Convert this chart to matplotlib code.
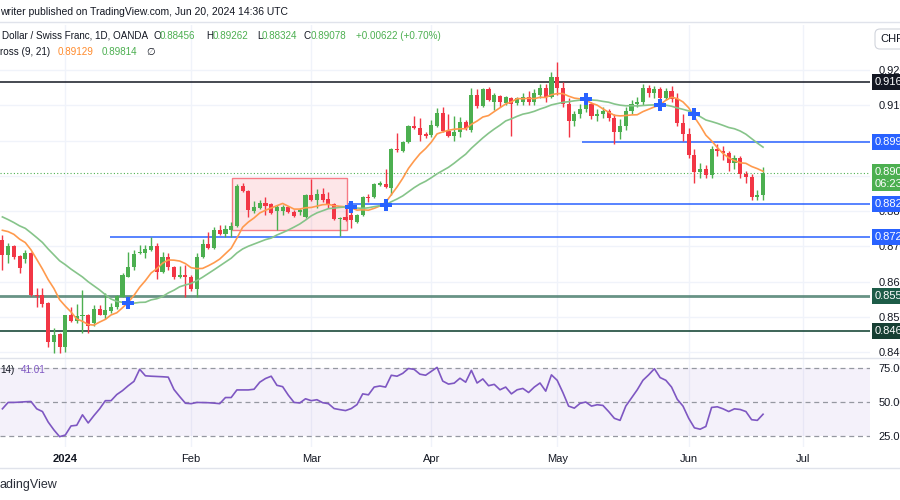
import numpy as np
import pandas as pd
import matplotlib.pyplot as plt
from matplotlib.patches import Rectangle

plt.rcParams['font.family'] = ['Liberation Sans', 'DejaVu Sans']

UP = '#4caf50'
DOWN = '#f23645'
TXT = '#131722'
GRID = '#f0f3fa'

# daily USD/CHF bars, mid Dec 2023 -> 20 Jun 2024
opens = [0.8718, 0.8675, 0.8701, 0.8672, 0.8664, 0.8681, 0.8562, 0.8562, 0.8540, 0.8428,
         0.8452, 0.8414, 0.8504, 0.8489, 0.8501, 0.8504, 0.8481, 0.8523, 0.8506, 0.8515,
         0.8527, 0.8556, 0.8613, 0.8641, 0.8681, 0.8681, 0.8689, 0.8701, 0.8627, 0.8669,
         0.8641, 0.8613, 0.8618, 0.8613, 0.8579, 0.8669, 0.8706, 0.8695, 0.8746, 0.8735,
         0.8746, 0.8757, 0.8871, 0.8857, 0.8800, 0.8809, 0.8823, 0.8820, 0.8800, 0.8800,
         0.8811, 0.8797, 0.8797, 0.8783, 0.8845, 0.8831, 0.8848, 0.8834, 0.8820, 0.8777,
         0.8783, 0.8789, 0.8769, 0.8789, 0.8840, 0.8840, 0.8875, 0.8878, 0.8865, 0.8976,
         0.8970, 0.8996, 0.9041, 0.9035, 0.9018, 0.9015, 0.9041, 0.9078, 0.9027, 0.9013,
         0.9024, 0.9052, 0.9030, 0.9129, 0.9098, 0.9146, 0.9109, 0.9126, 0.9106, 0.9121,
         0.9106, 0.9110, 0.9125, 0.9110, 0.9130, 0.9150, 0.9125, 0.9180, 0.9150, 0.9105,
         0.9055, 0.9075, 0.9090, 0.9105, 0.9070, 0.9075, 0.9085, 0.9065, 0.9025, 0.9040,
         0.9085, 0.9105, 0.9110, 0.9150, 0.9135, 0.9145, 0.9120, 0.9140, 0.9117, 0.9050,
         0.9020, 0.8960, 0.8910, 0.8920, 0.8901, 0.8975, 0.8970, 0.8965, 0.8937, 0.8950,
         0.8905, 0.88956, 0.8840, 0.88456]
highs = [0.8732, 0.8709, 0.8704, 0.8675, 0.8689, 0.8684, 0.8582, 0.8582, 0.8542, 0.8467,
         0.8455, 0.8506, 0.8527, 0.8537, 0.8576, 0.8509, 0.8533, 0.8533, 0.8567, 0.8540,
         0.8562, 0.8624, 0.8684, 0.8689, 0.8704, 0.8704, 0.8726, 0.8709, 0.8684, 0.8681,
         0.8643, 0.8643, 0.8646, 0.8618, 0.8681, 0.8720, 0.8740, 0.8755, 0.8760, 0.8760,
         0.8769, 0.8878, 0.8881, 0.8860, 0.8828, 0.8831, 0.8840, 0.8823, 0.8817, 0.8817,
         0.8814, 0.8803, 0.8809, 0.8848, 0.8891, 0.8862, 0.8865, 0.8854, 0.8823, 0.8782,
         0.8814, 0.8803, 0.8791, 0.8843, 0.8848, 0.8881, 0.8884, 0.8919, 0.8979, 0.9021,
         0.8998, 0.9044, 0.9069, 0.9064, 0.9024, 0.9058, 0.9092, 0.9095, 0.9075, 0.9069,
         0.9066, 0.9058, 0.9149, 0.9146, 0.9149, 0.9152, 0.9135, 0.9129, 0.9126, 0.9123,
         0.9123, 0.9135, 0.9140, 0.9145, 0.9160, 0.9160, 0.9195, 0.9224, 0.9165, 0.9120,
         0.9085, 0.9105, 0.9115, 0.9110, 0.9090, 0.9095, 0.9090, 0.9075, 0.9060, 0.9095,
         0.9115, 0.9125, 0.9160, 0.9158, 0.9155, 0.9152, 0.9150, 0.9155, 0.9135, 0.9075,
         0.9035, 0.8975, 0.8935, 0.8930, 0.8985, 0.8990, 0.8985, 0.8970, 0.8960, 0.8955,
         0.8915, 0.8905, 0.8860, 0.89262]
lows = [0.8633, 0.8652, 0.8664, 0.8624, 0.8652, 0.8559, 0.8527, 0.8527, 0.8414, 0.8398,
        0.8398, 0.8400, 0.8486, 0.8481, 0.8455, 0.8455, 0.8475, 0.8504, 0.8495, 0.8512,
        0.8523, 0.8556, 0.8613, 0.8633, 0.8678, 0.8667, 0.8687, 0.8607, 0.8624, 0.8633,
        0.8607, 0.8610, 0.8556, 0.8573, 0.8556, 0.8667, 0.8692, 0.8692, 0.8732, 0.8726,
        0.8726, 0.8755, 0.8854, 0.8783, 0.8794, 0.8806, 0.8789, 0.8791, 0.8746, 0.8789,
        0.8794, 0.8783, 0.8789, 0.8780, 0.8828, 0.8809, 0.8826, 0.8809, 0.8774, 0.8729,
        0.8772, 0.8752, 0.8766, 0.8786, 0.8826, 0.8837, 0.8872, 0.8865, 0.8845, 0.8967,
        0.8967, 0.8993, 0.9033, 0.8999, 0.9007, 0.9010, 0.9038, 0.9024, 0.9010, 0.8999,
        0.9010, 0.9030, 0.9024, 0.9092, 0.9095, 0.9112, 0.9086, 0.9095, 0.9101, 0.9013,
        0.9101, 0.9100, 0.9100, 0.9100, 0.9120, 0.9110, 0.9120, 0.9130, 0.9095, 0.9010,
        0.9040, 0.9065, 0.9080, 0.9060, 0.9055, 0.9065, 0.9055, 0.8990, 0.9005, 0.9030,
        0.9075, 0.9095, 0.9100, 0.9125, 0.9120, 0.9115, 0.9115, 0.9110, 0.9040, 0.9000,
        0.8950, 0.8880, 0.8895, 0.8895, 0.8895, 0.8955, 0.8945, 0.8915, 0.8920, 0.8895,
        0.8880, 0.8830, 0.8830, 0.88324]
closes = [0.8675, 0.8701, 0.8669, 0.8638, 0.8681, 0.8562, 0.8559, 0.8537, 0.8428, 0.8449,
          0.8414, 0.8504, 0.8489, 0.8501, 0.8504, 0.8475, 0.8523, 0.8506, 0.8518, 0.8527,
          0.8559, 0.8618, 0.8641, 0.8678, 0.8684, 0.8692, 0.8701, 0.8627, 0.8669, 0.8641,
          0.8613, 0.8618, 0.8613, 0.8579, 0.8669, 0.8706, 0.8695, 0.8746, 0.8735, 0.8749,
          0.8757, 0.8871, 0.8857, 0.8803, 0.8811, 0.8823, 0.8814, 0.8794, 0.8811, 0.8811,
          0.8797, 0.8786, 0.8803, 0.8845, 0.8831, 0.8848, 0.8831, 0.8820, 0.8777, 0.8780,
          0.8774, 0.8774, 0.8789, 0.8840, 0.8837, 0.8878, 0.8880, 0.8868, 0.8976, 0.8973,
          0.8996, 0.9041, 0.9035, 0.9015, 0.9013, 0.9044, 0.9078, 0.9027, 0.9013, 0.9024,
          0.9052, 0.9035, 0.9129, 0.9098, 0.9146, 0.9115, 0.9129, 0.9109, 0.9123, 0.9103,
          0.9121, 0.9125, 0.9110, 0.9135, 0.9150, 0.9125, 0.9180, 0.9150, 0.9105, 0.9055,
          0.9075, 0.9090, 0.9105, 0.9070, 0.9075, 0.9085, 0.9065, 0.9025, 0.9040, 0.9085,
          0.9105, 0.9110, 0.9150, 0.9135, 0.9145, 0.9120, 0.9140, 0.9117, 0.9050, 0.9020,
          0.8960, 0.8910, 0.8920, 0.8901, 0.8975, 0.8970, 0.8965, 0.8937, 0.8950, 0.8905,
          0.88956, 0.8840, 0.88456, 0.89078]
# closes before the visible window, only used to warm up the moving averages
closes_before = [0.8860, 0.8845, 0.8835, 0.8830, 0.8830, 0.8840, 0.8830, 0.8815, 0.8800, 0.8765,
                 0.8740, 0.8752, 0.8735, 0.8738, 0.8760, 0.8770, 0.8748, 0.8800, 0.8785, 0.8698]

# RSI(14) as shown in the lower panel, one value per bar
rsi_vals = [45.0, 49.7, 49.7, 49.9, 50.2, 50.4, 45.0, 43.0, 35.3, 29.5,
            24.5, 25.7, 32.4, 32.9, 40.6, 34.6, 40.0, 45.0, 51.0, 51.0,
            55.5, 58.4, 62.0, 65.2, 74.1, 69.3, 69.0, 68.8, 68.6, 68.3,
            59.2, 54.0, 49.1, 48.8, 49.7, 49.6, 49.5, 49.2, 48.8, 53.3,
            53.3, 58.9, 58.9, 58.9, 59.4, 64.6, 67.3, 69.0, 62.3, 61.3,
            55.0, 49.7, 49.3, 52.4, 51.0, 51.7, 49.5, 48.8, 45.2, 44.4,
            43.7, 45.2, 48.1, 56.0, 55.3, 61.0, 61.8, 61.0, 69.7, 69.0,
            71.1, 74.7, 74.0, 70.5, 69.7, 72.6, 75.5, 65.4, 63.2, 63.9,
            67.5, 64.6, 73.3, 64.0, 67.0, 62.0, 63.0, 59.0, 61.0, 56.0,
            59.0, 60.0, 57.0, 61.0, 64.0, 58.0, 70.0, 66.0, 57.0, 47.0,
            45.5, 49.0, 50.0, 47.0, 48.0, 47.5, 43.0, 38.0, 36.5, 47.0,
            53.0, 59.0, 66.0, 70.0, 74.5, 68.0, 66.0, 61.0, 52.0, 47.0,
            38.0, 31.0, 30.0, 32.0, 46.0, 46.5, 45.0, 43.0, 45.0, 44.5,
            43.0, 37.0, 36.5, 41.01]

month_pos = [11, 33, 54, 75, 97, 120, 140]
month_labels = ['2024', 'Feb', 'Mar', 'Apr', 'May', 'Jun', 'Jul']

# horizontal levels drawn on the chart
black_level = 0.9166
blue_levels = [0.8996, 0.8820, 0.8726]
blue_starts = [101.3, 60.4, 18.8]
green_levels = [0.8559, 0.8460]
zone = (40.1, 60.2, 0.8746, 0.8894)  # x0, x1, y0, y1
last_close = 0.89078

# moving averages (MA Cross 9 / 21)
allc = pd.Series(closes_before + closes)
k = len(closes_before)
sma9 = allc.rolling(9).mean().iloc[k:].to_numpy()
sma21 = allc.rolling(21).mean().iloc[k:].to_numpy()

o = np.array(opens); h = np.array(highs); l = np.array(lows); c = np.array(closes)
x = np.arange(len(c))
cols = np.where(c >= o, UP, DOWN)

fig = plt.figure(figsize=(9, 5), dpi=100)
W, H = 900, 500
ax = fig.add_axes([0, 142 / H, 870 / W, 333 / H])
rax = fig.add_axes([0, 53 / H, 870 / W, 89 / H], sharex=ax)

# candles
ax.vlines(x, l, h, colors=cols, lw=1, zorder=3)
ax.bar(x, np.maximum(np.abs(c - o), 0.00012), bottom=np.minimum(o, c), width=0.72,
       color=cols, zorder=4, linewidth=0)

ax.plot(x, sma9, color='#ff9a4d', lw=1.2, zorder=5)
ax.plot(x, sma21, color='#86c48a', lw=1.2, zorder=5)

# MA cross markers
diff = sma9 - sma21
for i in range(1, len(diff)):
    if np.isfinite(diff[i - 1]) and np.sign(diff[i]) != np.sign(diff[i - 1]):
        ax.plot(x[i], sma21[i], marker='P', ms=9, color='#2962ff', mew=0, zorder=6)

# levels
ax.axhline(black_level, color='#131722', lw=1.1, zorder=2)
for lv, xs in zip(blue_levels, blue_starts):
    ax.hlines(lv, xs, 160, color='#2962ff', lw=1.1, zorder=2)
ax.axhline(green_levels[0], color='#4e8070', lw=2, alpha=0.85, zorder=2)
ax.axhline(green_levels[1], color='#1b4a3b', lw=1.2, zorder=2)
ax.axhline(last_close, color=UP, lw=0.8, ls=(0, (1, 2)), zorder=2)

ax.add_patch(Rectangle((zone[0], zone[2]), zone[1] - zone[0], zone[3] - zone[2],
                       facecolor='#f23645', alpha=0.12, edgecolor='none', zorder=1))
ax.add_patch(Rectangle((zone[0], zone[2]), zone[1] - zone[0], zone[3] - zone[2],
                       facecolor='none', edgecolor='#f77b86', lw=1, zorder=1))

xl = (-0.42, 151.7)
ax.set_xlim(*xl)
ax.set_ylim(0.8383, 0.9328)
ax.yaxis.tick_right()
ax.set_yticks(np.arange(0.84, 0.9201, 0.01))
ax.yaxis.set_major_formatter(plt.FuncFormatter(lambda v, p: f'{v:.5f}'))
ax.tick_params(axis='y', length=0, pad=6, labelsize=8, labelcolor=TXT)
ax.tick_params(axis='x', length=0, labelbottom=False)
ax.set_xticks(month_pos)
ax.grid(True, color=GRID, lw=1)
ax.set_axisbelow(True)
for s in ax.spines.values():
    s.set_visible(False)


def price_box(y, txt, fc, va='center', dy=0):
    ax.annotate(txt, xy=(1.0, y), xycoords=('axes fraction', 'data'), xytext=(5, dy),
                textcoords='offset pixels', ha='left', va=va, fontsize=8, color='white',
                annotation_clip=False, zorder=10,
                bbox=dict(boxstyle='square,pad=0.25', fc=fc, ec='none'))


price_box(black_level, f'{black_level:.5f}', '#131722')
for lv in blue_levels:
    price_box(lv, f'{lv:.5f}', '#2962ff')
price_box(green_levels[0], f'{green_levels[0]:.5f}', '#1d5c48')
price_box(green_levels[1], f'{green_levels[1]:.5f}', '#173f33')
price_box(last_close, f'{last_close:.5f}\n06:23:24', UP, va='top', dy=6)

# RSI panel
rax.plot(x, rsi_vals, color='#7e57c2', lw=1.2, zorder=3)
rax.axhspan(25, 75, color='#7e57c2', alpha=0.08, lw=0)
for lv in (75, 50, 25):
    rax.axhline(lv, color='#9598a1', lw=0.9, ls=(0, (4, 3)), zorder=2)
rax.set_ylim(16.9, 82.4)
rax.yaxis.tick_right()
rax.set_yticks([25, 50, 75])
rax.yaxis.set_major_formatter(plt.FuncFormatter(lambda v, p: f'{v:.2f}'))
rax.tick_params(axis='y', length=0, pad=6, labelsize=8, labelcolor=TXT)
rax.set_xticks(month_pos)
rax.set_xticklabels(month_labels)
rax.tick_params(axis='x', length=0, pad=5, labelsize=8, labelcolor=TXT)
rax.get_xticklabels()[0].set_fontweight('bold')
rax.grid(True, axis='x', color=GRID, lw=1)
rax.set_axisbelow(True)
for s in rax.spines.values():
    s.set_visible(False)
rax.set_xlim(*xl)


def ftext(px, py, s, **kw):
    fig.text(px / W, 1 - py / H, s, va='center', **kw)


def fline(py, x0=0, x1=900, color='#e0e3eb', lw=1):
    fig.add_artist(plt.Line2D([x0 / W, x1 / W], [1 - py / H, 1 - py / H], color=color, lw=lw))


fline(22)
fline(358)
fline(468)
ftext(0, 12, 'writer published on TradingView.com, Jun 20, 2024 14:36 UTC', fontsize=7.5, color=TXT)
ftext(2, 36, 'Dollar / Swiss Franc, 1D, OANDA', fontsize=7.1, color=TXT)
for px, lab in [(153, 'O'), (206, 'H'), (257, 'L'), (304, 'C')]:
    ftext(px, 36, lab, fontsize=7.1, color=TXT)
for px, val in [(160, '0.88456'), (213, '0.89262'), (262, '0.88324'), (311, '0.89078'),
                (356, '+0.00622 (+0.70%)')]:
    ftext(px, 36, val, fontsize=7.1, color=UP)
ftext(0, 52, 'ross (9, 21)', fontsize=7.1, color=TXT)
ftext(58, 52, f'{sma9[-1]:.5f}', fontsize=7.1, color='#ff8a2b')
ftext(102, 52, f'{sma21[-1]:.5f}', fontsize=7.1, color=UP)
ftext(146, 52, '\u2205', fontsize=7.1, color=TXT)
ftext(0, 370, '14)', fontsize=7.1, color=TXT)
ftext(21, 370, f'{rsi_vals[-1]:.2f}', fontsize=7.1, color='#7e57c2')
ftext(880, 39, 'CHF', fontsize=8, color=TXT,
      bbox=dict(boxstyle='round,pad=0.45', fc='white', ec='#d1d4dc', lw=0.8))
ftext(0, 485, 'adingView', fontsize=9, color='#2a2e39')

fig.savefig('out.png', dpi=100)
